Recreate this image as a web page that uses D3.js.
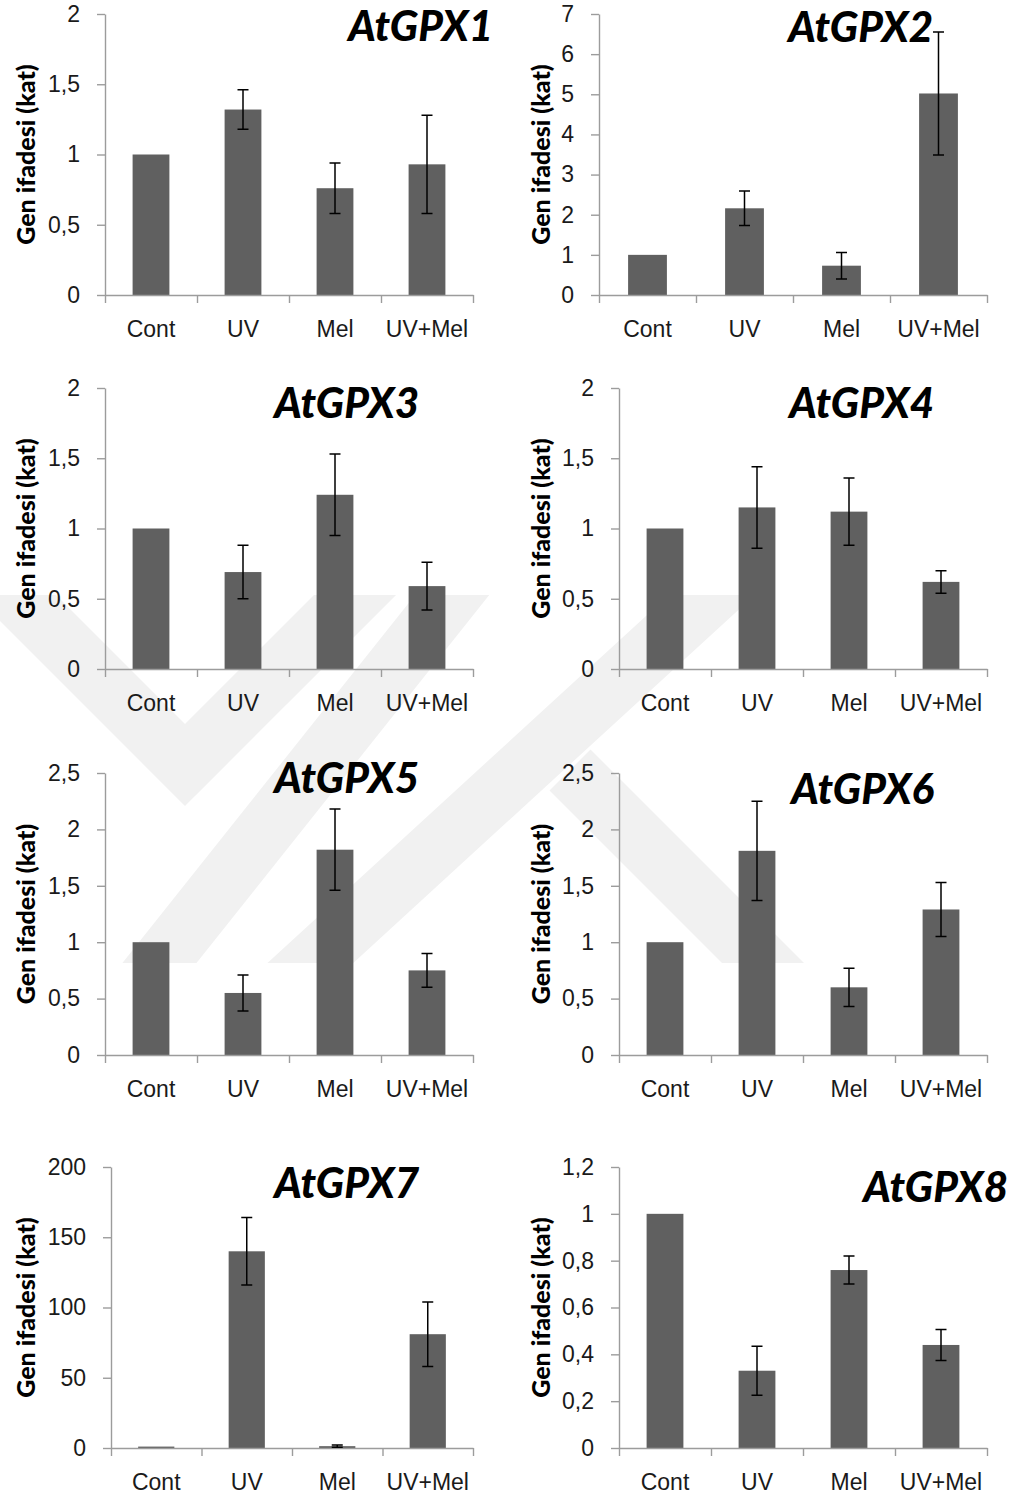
<!DOCTYPE html>
<html>
<head>
<meta charset="utf-8">
<script src="https://cdn.jsdelivr.net/npm/d3@7"></script>
<style>
  body { margin: 0; background: #fff; }
  svg { display: block; font-family: Lato, "Open Sans", sans-serif; }
</style>
</head>
<body>
<svg class="myChart" width="1028" height="1499"></svg>
<script>
// categories and gene names
const categories = ["Cont", "UV", "Mel", "UV+Mel"];
const genes = ["AtGPX1", "AtGPX2", "AtGPX3", "AtGPX4", "AtGPX5", "AtGPX6", "AtGPX7", "AtGPX8"];
const yLabel = "Gen ifadesi (kat)";

// mean fold change per category
const gpx1Values = [1, 1.32, 0.76, 0.93];
const gpx2Values = [1, 2.16, 0.73, 5.02];
const gpx3Values = [1, 0.69, 1.24, 0.59];
const gpx4Values = [1, 1.15, 1.12, 0.62];
const gpx5Values = [1, 0.55, 1.82, 0.75];
const gpx6Values = [1, 1.81, 0.60, 1.29];
const gpx7Values = [1, 140, 1.3, 81];
const gpx8Values = [1, 0.33, 0.76, 0.44];

// error bar half-lengths
const gpx1Errors = [0, 0.14, 0.18, 0.35];
const gpx2Errors = [0, 0.43, 0.33, 1.53];
const gpx3Errors = [0, 0.19, 0.29, 0.17];
const gpx4Errors = [0, 0.29, 0.24, 0.08];
const gpx5Errors = [0, 0.16, 0.36, 0.15];
const gpx6Errors = [0, 0.44, 0.17, 0.24];
const gpx7Errors = [0, 24, 0.8, 23];
const gpx8Errors = [0, 0.105, 0.06, 0.066];

// y tick values
const gpx1Ticks = [0, 0.5, 1, 1.5, 2];
const gpx2Ticks = [0, 1, 2, 3, 4, 5, 6, 7];
const gpx3Ticks = [0, 0.5, 1, 1.5, 2];
const gpx4Ticks = [0, 0.5, 1, 1.5, 2];
const gpx5Ticks = [0, 0.5, 1, 1.5, 2, 2.5];
const gpx6Ticks = [0, 0.5, 1, 1.5, 2, 2.5];
const gpx7Ticks = [0, 50, 100, 150, 200];
const gpx8Ticks = [0, 0.2, 0.4, 0.6, 0.8, 1, 1.2];

const values = [gpx1Values, gpx2Values, gpx3Values, gpx4Values, gpx5Values, gpx6Values, gpx7Values, gpx8Values];
const errors = [gpx1Errors, gpx2Errors, gpx3Errors, gpx4Errors, gpx5Errors, gpx6Errors, gpx7Errors, gpx8Errors];
const ticks = [gpx1Ticks, gpx2Ticks, gpx3Ticks, gpx4Ticks, gpx5Ticks, gpx6Ticks, gpx7Ticks, gpx8Ticks];

// panel placement on the page
const layout = [
  {x0:105, x1:473, top:14,   bot:295,  tx:493,  ty:41,   lx:25},
  {x0:599, x1:987, top:14,   bot:295,  tx:933,  ty:42,   lx:540},
  {x0:105, x1:473, top:388,  bot:669,  tx:419,  ty:418,  lx:25},
  {x0:619, x1:987, top:388,  bot:669,  tx:934,  ty:418,  lx:540},
  {x0:105, x1:473, top:773,  bot:1055, tx:419,  ty:793,  lx:25},
  {x0:619, x1:987, top:773,  bot:1055, tx:934,  ty:804,  lx:540},
  {x0:111, x1:473, top:1167, bot:1448, tx:419,  ty:1198, lx:25},
  {x0:619, x1:987, top:1167, bot:1448, tx:1008, ty:1202, lx:540}
];

const trLocale = d3.formatLocale({decimal: ",", thousands: ".", grouping: [3], currency: ["", ""]});
const fmt = trLocale.format("~g");

const svg = d3.select("svg.myChart");

// faint background watermark (page decoration, not data)
svg.append("defs").append("clipPath").attr("id", "wmclip")
  .append("rect").attr("x", 0).attr("y", 595).attr("width", 1028).attr("height", 368);
const wm = svg.append("g").attr("clip-path", "url(#wmclip)");
const wmPaths = [
  [[-20, 560], [185, 765], [390, 560]],
  [[130, 1000], [480, 560]],
  [[270, 1000], [750, 560]],
  [[570, 770], [790, 990]]
];
wm.selectAll("path").data(wmPaths).enter().append("path")
  .attr("d", d3.line())
  .attr("fill", "none")
  .attr("stroke", "#f1f1f1")
  .attr("stroke-width", 58)
  .attr("stroke-linejoin", "miter");

const render = (i) => {
  const L = layout[i];
  const data = categories.map((c, k) => ({cat: c, v: values[i][k], e: errors[i][k]}));
  const t = ticks[i];

  const yScale = d3.scaleLinear().domain([0, t[t.length - 1]]).range([L.bot, L.top]);
  const xScale = d3.scaleBand().domain(categories).range([L.x0, L.x1])
    .paddingInner(0.6).paddingOuter(0.3);
  const xEdges = d3.scaleLinear().domain([0, categories.length]).range([L.x0, L.x1]);

  const g = svg.append("g");

  // bars
  g.selectAll("rect").data(data).enter().append("rect")
    .attr("x", d => xScale(d.cat))
    .attr("y", d => yScale(d.v))
    .attr("width", xScale.bandwidth())
    .attr("height", d => yScale(0) - yScale(d.v))
    .attr("fill", "#606060");

  // y axis
  const yAxis = g.append("g")
    .attr("transform", `translate(${L.x0},0)`)
    .call(d3.axisLeft(yScale).tickValues(t).tickFormat(fmt).tickSize(8).tickSizeOuter(0).tickPadding(17));
  yAxis.selectAll("text").attr("font-size", 23).attr("fill", "#1a1a1a");

  // x axis line with ticks on category boundaries
  const xAxis = g.append("g")
    .attr("transform", `translate(0,${L.bot})`)
    .call(d3.axisBottom(xEdges).tickValues(d3.range(categories.length + 1)).tickFormat("").tickSize(8).tickSizeOuter(0));

  // category labels
  const xLab = g.append("g")
    .attr("transform", `translate(0,${L.bot})`)
    .call(d3.axisBottom(xScale).tickSize(0).tickPadding(26));
  xLab.select(".domain").remove();
  xLab.selectAll("text").attr("font-size", 23).attr("fill", "#1a1a1a");

  [yAxis, xAxis].forEach(a => {
    a.selectAll(".domain, line").attr("stroke", "#9c9c9c").attr("stroke-width", 1.4);
  });

  // error bars
  const eb = data.filter(d => d.e > 0);
  const cx = d => xScale(d.cat) + xScale.bandwidth() / 2;
  const capW = 5.5;
  g.selectAll(".err").data(eb).enter().append("path")
    .attr("class", "err")
    .attr("d", d => {
      const yt = yScale(d.v + d.e), yb = yScale(d.v - d.e), x = cx(d);
      return `M${x},${yt}V${yb}M${x - capW},${yt}H${x + capW}M${x - capW},${yb}H${x + capW}`;
    })
    .attr("fill", "none")
    .attr("stroke", "#000")
    .attr("stroke-width", 1.5);

  // title
  g.append("text")
    .attr("x", L.tx).attr("y", L.ty)
    .attr("text-anchor", "end")
    .attr("font-size", 42)
    .attr("font-weight", 900)
    .attr("font-style", "italic")
    .attr("fill", "#000")
    .text(genes[i]);

  // y label
  g.append("text")
    .attr("transform", `translate(${L.lx},${(L.top + L.bot) / 2}) rotate(-90)`)
    .attr("text-anchor", "middle")
    .attr("dominant-baseline", "central")
    .attr("font-size", 25)
    .attr("font-weight", 900)
    .attr("fill", "#000")
    .text(yLabel);
};

genes.forEach((g, i) => render(i));
</script>
</body>
</html>
